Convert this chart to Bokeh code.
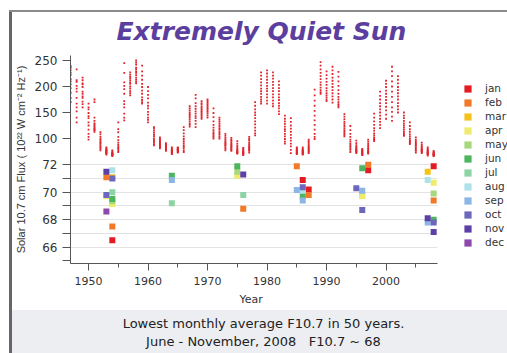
from bokeh.plotting import figure
from bokeh.models import (Range1d, FixedTicker, Legend, LegendItem, Div, InlineStyleSheet,
                          Title)
from bokeh.layouts import column
from bokeh.embed import file_html
from bokeh.resources import INLINE

# ---------------- data ----------------
years = list(range(1947, 2009))
monthly_flux = [
    [239, 236, 231, 226, 222, 214, 210, 204, 197, 188, 178, 170],  # 1947
    [233, 212, 209, 201, 196, 190, 178, 167, 160, 152, 140, 131],  # 1948
    [217, 212, 206, 204, 199, 190, 186, 181, 178, 171, 166, 160],  # 1949
    [167, 160, 156, 149, 143, 139, 131, 125, 117, 109, 103, 98],   # 1950
    [175, 170, 140, 134, 129, 124, 119, 116, 113, 117, 121, 127],  # 1951
    [112, 108, 103, 99, 96, 93, 91, 88, 85, 83, 80, 77],           # 1952
    [83, 81, 79, 78, 77, 76, 75, 74, 73, 72, 71, 69],              # 1953
    [77, 75, 73, 72, 71, 71, 70, 69, 69, 68, 67, 66],              # 1954
    [131, 118, 112, 103, 97, 92, 88, 85, 82, 80, 77, 74],          # 1955
    [245, 226, 208, 201, 195, 186, 172, 166, 160, 148, 140, 135],  # 1956
    [227, 223, 219, 216, 212, 208, 205, 200, 196, 191, 187, 183],  # 1957
    [250, 246, 242, 236, 233, 229, 226, 222, 217, 213, 209, 206],  # 1958
    [240, 229, 221, 213, 205, 199, 192, 186, 179, 174, 170, 167],  # 1959
    [199, 191, 184, 177, 169, 163, 158, 151, 146, 140, 136, 131],  # 1960
    [122, 119, 115, 111, 107, 104, 100, 97, 95, 92, 89, 87],       # 1961
    [102, 99, 97, 95, 93, 91, 89, 88, 86, 84, 83, 81],             # 1962
    [91, 89, 88, 86, 85, 84, 83, 82, 80, 79, 78, 76],              # 1963
    [83, 81, 79, 78, 77, 76, 75, 74, 73, 72, 71, 70],              # 1964
    [83, 82, 81, 80, 79, 78, 78, 77, 76, 75, 74, 73],              # 1965
    [122, 116, 110, 104, 99, 95, 91, 87, 84, 81, 77, 74],          # 1966
    [162, 158, 154, 150, 147, 144, 141, 137, 133, 129, 126, 123],  # 1967
    [184, 177, 168, 162, 157, 152, 148, 143, 139, 134, 128, 122],  # 1968
    [172, 168, 165, 161, 158, 155, 152, 150, 147, 144, 141, 138],  # 1969
    [175, 172, 169, 166, 163, 160, 157, 154, 151, 148, 144, 140],  # 1970
    [158, 149, 141, 133, 126, 121, 116, 112, 109, 106, 103, 100],  # 1971
    [140, 136, 132, 128, 124, 120, 117, 113, 110, 107, 103, 100],  # 1972
    [109, 105, 101, 98, 95, 92, 90, 88, 86, 83, 80, 77],           # 1973
    [101, 98, 96, 93, 90, 88, 86, 84, 82, 80, 78, 76],             # 1974
    [95, 90, 86, 83, 80, 78, 76, 75, 74, 73, 72, 71],              # 1975
    [82, 80, 78, 76, 75, 74, 73, 72, 71, 70, 69, 68],              # 1976
    [103, 99, 96, 92, 89, 86, 84, 82, 80, 78, 76, 73],             # 1977
    [170, 163, 156, 150, 145, 139, 133, 127, 121, 115, 110, 106],  # 1978
    [227, 221, 214, 208, 202, 196, 191, 186, 180, 175, 171, 167],  # 1979
    [231, 225, 219, 213, 207, 201, 196, 191, 185, 179, 173, 167],  # 1980
    [227, 221, 215, 209, 203, 197, 191, 185, 179, 173, 167, 162],  # 1981
    [210, 203, 197, 191, 185, 179, 174, 168, 163, 158, 152, 147],  # 1982
    [144, 138, 133, 128, 123, 118, 114, 109, 104, 99, 94, 90],     # 1983
    [139, 132, 125, 119, 113, 107, 101, 96, 90, 85, 78, 72],       # 1984
    [83, 81, 79, 78, 77, 76, 75, 74, 73, 72, 71, 70],              # 1985
    [83, 80, 78, 77, 76, 75, 74, 73, 72, 71, 70, 69],              # 1986
    [98, 95, 92, 89, 86, 84, 82, 80, 78, 76, 74, 72],              # 1987
    [194, 183, 173, 163, 153, 144, 135, 126, 117, 109, 103, 99],   # 1988
    [247, 240, 233, 226, 220, 214, 208, 203, 198, 193, 189, 186],  # 1989
    [229, 222, 215, 209, 203, 197, 192, 187, 183, 179, 175, 172],  # 1990
    [238, 231, 224, 217, 211, 205, 199, 193, 187, 181, 175, 169],  # 1991
    [228, 219, 210, 201, 193, 186, 180, 175, 170, 166, 163, 160],  # 1992
    [147, 142, 137, 132, 128, 124, 120, 116, 113, 110, 107, 104],  # 1993
    [124, 116, 109, 103, 98, 94, 90, 87, 84, 81, 78, 74],          # 1994
    [96, 91, 87, 84, 82, 80, 78, 77, 76, 75, 74, 72],              # 1995
    [80, 78, 77, 76, 75, 74, 73, 72, 71, 70, 69, 68],              # 1996
    [98, 94, 90, 87, 84, 81, 79, 77, 75, 74, 72, 71],              # 1997
    [148, 140, 133, 126, 120, 115, 110, 106, 102, 99, 97, 95],     # 1998
    [190, 182, 175, 168, 162, 156, 150, 144, 138, 132, 126, 120],  # 1999
    [211, 205, 199, 192, 186, 180, 174, 168, 161, 154, 146, 138],  # 2000
    [238, 229, 220, 210, 200, 190, 180, 170, 160, 151, 142, 134],  # 2001
    [220, 213, 206, 199, 193, 187, 181, 175, 168, 162, 156, 150],  # 2002
    [150, 144, 139, 134, 129, 125, 121, 117, 113, 110, 107, 105],  # 2003
    [131, 124, 118, 113, 108, 104, 100, 97, 95, 93, 91, 89],       # 2004
    [102, 98, 95, 92, 90, 88, 86, 83, 81, 78, 76, 73],             # 2005
    [92, 88, 85, 83, 81, 79, 78, 77, 76, 75, 74, 72],              # 2006
    [83, 80, 78, 76, 75, 74, 73, 72, 71, 70, 69, 67],              # 2007
    [76, 74, 73, 72, 71, 70, 70, 69, 68, 68, 67, 66],              # 2008
]

month_names = ["jan", "feb", "mar", "apr", "may", "jun",
               "jul", "aug", "sep", "oct", "nov", "dec"]
month_colors = ["#e31c23", "#f07a2a", "#f5c21a", "#eeec6c", "#a5d97c", "#4cb55d",
                "#8dd4a4", "#ade2ea", "#8bb6e5", "#6a67bd", "#5c40a6", "#8d48aa"]

# lowest monthly values (lower panel): month index, year, flux
low_month = [0, 0, 0, 0, 0,
             1, 1, 1, 1, 1, 1, 1,
             2, 2, 2,
             3, 3, 3, 3, 3,
             4, 4, 4,
             5, 5, 5, 5, 5, 5,
             6, 6, 6,
             7, 7, 7,
             8, 8, 8, 8, 8,
             9, 9, 9, 9, 9, 9,
             10, 10, 10, 10,
             11]
low_year = [1954, 1986, 1987, 1997, 2008,
            1953, 1954, 1976, 1985, 1987, 1997, 2008,
            1954, 1996, 2007,
            1953, 1954, 1975, 1996, 2008,
            1954, 1975, 2008,
            1954, 1964, 1975, 1986, 1996, 2008,
            1954, 1964, 1976,
            1954, 1986, 2007,
            1964, 1985, 1986, 1996, 2007,
            1953, 1954, 1986, 1995, 1996, 2008,
            1953, 1976, 2007, 2008,
            1953]
low_flux = [66.5, 70.9, 70.2, 71.6, 71.9,
            71.1, 67.5, 68.8, 71.9, 69.8, 72.0, 69.4,
            71.1, 69.8, 71.5,
            69.7, 69.15, 71.2, 69.7, 70.7,
            69.35, 71.5, 69.9,
            69.5, 71.2, 71.9, 69.7, 71.75, 68.0,
            70.0, 69.2, 69.8,
            71.6, 70.1, 70.9,
            70.9, 70.17, 69.4, 70.1, 67.8,
            69.8, 71.0, 70.37, 70.3, 68.7, 67.8,
            71.5, 71.3, 68.1, 67.1,
            68.6]

x_major_ticks = [1950, 1960, 1970, 1980, 1990, 2000]
x_minor_ticks = [1955, 1965, 1975, 1985, 1995, 2005]
flux_ticks = [100, 150, 200, 250]
low_ticks = [66, 68, 70, 72]
low_minor_ticks = [65, 67, 69, 71]
low_grid = [66, 67, 68, 69, 70, 71, 72]

# ---------------- scales ----------------
X_AXIS_SPAN = (1946.97, 2008.65)   # extent of the drawn x axis
X_VIEW = (1946.97, 2020.41)        # frame reaches the right edge (legend room)
LOW = (64.81, 79.96)      # lower panel scale over the whole frame
FLUX = (-140.4, 259.6)    # upper panel scale over the whole frame


def flux_to_low(v):
    return LOW[0] + (v - FLUX[0]) * (LOW[1] - LOW[0]) / (FLUX[1] - FLUX[0])


p = figure(width=507, height=310, output_backend="svg", toolbar_location=None,
           x_range=Range1d(*X_VIEW), y_range=Range1d(*LOW),
           min_border_left=70, min_border_right=0, min_border_top=55,
           min_border_bottom=47)
p.extra_y_ranges = {"flux": Range1d(*FLUX)}
p.outline_line_color = None
p.background_fill_color = "white"
p.border_fill_color = "white"

# upper panel: monthly values as small red dots
xs, ys = [], []
for yr, vals in zip(years, monthly_flux):
    for v in vals:
        xs.append(yr)
        ys.append(v)
p.scatter(x=xs, y=ys, y_range_name="flux", marker="square", size=1.8,
          fill_color="#e0242d", line_color=None)

# lower panel: lowest months as coloured squares
items = []
for mi, (name, col) in enumerate(zip(month_names, month_colors)):
    mx = [y for m, y in zip(low_month, low_year) if m == mi]
    my = [f for m, f in zip(low_month, low_flux) if m == mi]
    r = p.rect(x=mx, y=my, width=6, height=6, width_units="screen",
               height_units="screen", fill_color=col, line_color=None)
    items.append(LegendItem(label=name, renderers=[r]))

legend = Legend(items=items, location=(393, 14), glyph_width=9, glyph_height=9,
                label_height=14, spacing=0, padding=0, margin=0,
                label_standoff=13, border_line_color=None,
                background_fill_alpha=0, label_text_font="DejaVu Sans",
                label_text_font_size="10.5px", label_text_color="#333333")
p.add_layout(legend)

# axes
xa = p.xaxis[0]
xa.bounds = X_AXIS_SPAN
xa.ticker = FixedTicker(ticks=x_major_ticks, minor_ticks=x_minor_ticks)
xa.major_label_text_font = "DejaVu Sans"
xa.major_label_text_font_size = "11px"
xa.major_label_text_color = "#333333"
xa.major_label_standoff = 6
xa.axis_line_color = "#555555"
xa.major_tick_line_color = "#555555"
xa.minor_tick_line_color = "#555555"
xa.major_tick_out = 7
xa.major_tick_in = 0
xa.minor_tick_out = 4
xa.minor_tick_in = 0

# x-axis title, centred under the drawn axis span
p.add_layout(Title(text="Year", align="left", offset=169, standoff=6,
                   text_font="DejaVu Sans", text_font_size="11px",
                   text_font_style="normal", text_color="#333333"), "below")

ya = p.yaxis[0]
major_pos = [float(t) for t in low_ticks] + [flux_to_low(t) for t in flux_ticks]
major_lab = [str(t) for t in low_ticks] + [str(t) for t in flux_ticks]
ya.ticker = FixedTicker(ticks=major_pos, minor_ticks=low_minor_ticks)
ya.major_label_overrides = {pos: lab for pos, lab in zip(major_pos, major_lab)}
ya.axis_label = "Solar 10.7 cm Flux ( 10\u00b2\u00b2 W cm\u207b\u00b2 Hz\u207b\u00b9)"
ya.axis_label_text_font = "Liberation Sans"
ya.axis_label_text_font_size = "11px"
ya.axis_label_text_font_style = "normal"
ya.axis_label_text_color = "#333333"
ya.axis_label_standoff = 5
ya.major_label_text_font = "DejaVu Sans"
ya.major_label_text_font_size = "12px"
ya.major_label_text_color = "#333333"
ya.major_label_standoff = 5
ya.axis_line_color = "#555555"
ya.major_tick_line_color = "#555555"
ya.minor_tick_line_color = "#555555"
ya.major_tick_out = 8
ya.major_tick_in = 0
ya.minor_tick_out = 8
ya.minor_tick_in = 0

p.xgrid.visible = False
p.ygrid.ticker = FixedTicker(ticks=low_grid)
p.ygrid.cross_bounds = X_AXIS_SPAN
p.ygrid.grid_line_color = "#e3e3e3"

# title
p.title.text = "Extremely Quiet Sun"
p.title.align = "left"
p.title.offset = 46
p.title.standoff = 19
p.title.text_font = "DejaVu Sans"
p.title.text_font_size = "25px"
p.title.text_font_style = "bold italic"
p.title.text_color = "#5b3e9e"

caption = Div(width=507, height=43, margin=0, text=(
    '<div style="margin-left:12px;'
    'background:#eceef2;height:43px;box-sizing:border-box;padding-top:5px;'
    'padding-left:8px;text-align:center;font-family:\'DejaVu Sans\';'
    'font-size:13px;line-height:18px;color:#222222;width:495px">'
    'Lowest monthly average F10.7 in 50 years.<br>'
    'June - November, 2008&nbsp;&nbsp;&nbsp;F10.7 ~ 68</div>'))

# frame of the screenshot (left bar and top line)
frame_css = InlineStyleSheet(css=(
    ":host { position: relative; }"
    ":host::before { content: ''; position: absolute; left: 9px; top: 10px;"
    " width: 3px; height: 343px; background: #666666; z-index: 10; }"
    ":host::after { content: ''; position: absolute; left: 9px; top: 10px;"
    " width: 498px; height: 2px; background: #8a8a8a; z-index: 10; }"))

layout = column(p, caption, spacing=0, stylesheets=[frame_css])
open("out.html", "w").write(file_html(layout, INLINE))
